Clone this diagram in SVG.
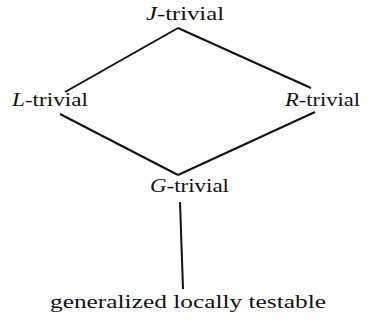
<svg xmlns="http://www.w3.org/2000/svg" width="368" height="320" viewBox="0 0 368 320">
<style>
text{font-family:"Liberation Serif","DejaVu Serif",serif;font-size:18px;fill:#111}
.i{font-style:italic}
.e{stroke:#111;stroke-width:2;fill:none}
</style>
<rect width="368" height="320" fill="#fff"/>
<g id="connectors">
<line class="e" x1="178" y1="28" x2="65" y2="92"/>
<line class="e" x1="178" y1="28" x2="311" y2="88"/>
<line class="e" x1="60" y1="114" x2="178" y2="175"/>
<line class="e" x1="315" y1="112" x2="178" y2="175"/>
<line class="e" x1="180" y1="202" x2="183" y2="289"/>
</g>
<g id="J"><text x="146" y="20" textLength="78" lengthAdjust="spacingAndGlyphs"><tspan class="i">J</tspan>-trivial</text></g>
<g id="L"><text x="12" y="106" textLength="76" lengthAdjust="spacingAndGlyphs"><tspan class="i">L</tspan>-trivial</text></g>
<g id="R"><text x="285" y="106" textLength="75" lengthAdjust="spacingAndGlyphs"><tspan class="i">R</tspan>-trivial</text></g>
<g id="G"><text x="150" y="192" textLength="79" lengthAdjust="spacingAndGlyphs"><tspan class="i">G</tspan>-trivial</text></g>
<g id="GLT"><text x="50" y="308" textLength="276" lengthAdjust="spacingAndGlyphs">generalized locally testable</text></g>
</svg>
